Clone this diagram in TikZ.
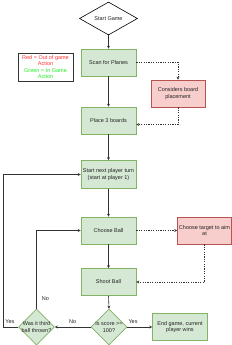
\documentclass[tikz,border=0pt]{standalone}
\usepackage{fontspec}
\setmainfont{Liberation Sans}
\usetikzlibrary{shapes.geometric,arrows.meta,calc}
\definecolor{gfill}{HTML}{D5E8D4}
\definecolor{gline}{HTML}{82B366}
\definecolor{rfill}{HTML}{F8CECC}
\definecolor{rline}{HTML}{B85450}
\definecolor{txt}{HTML}{222222}
\definecolor{lc}{HTML}{333333}
\definecolor{legred}{HTML}{FF3333}
\definecolor{leggreen}{HTML}{22EE22}
\begin{document}
\begin{tikzpicture}[x=1pt,y=-1pt,
  every node/.style={font=\fontsize{5.5}{6.4}\selectfont, text=txt},
  gbox/.style={draw=gline, fill=gfill, line width=0.6pt, minimum width=55pt, minimum height=27pt, inner sep=0pt, align=center},
  rbox/.style={draw=rline, fill=rfill, line width=0.6pt, minimum width=54pt, minimum height=27pt, inner sep=0pt, align=center},
  gdiam/.style={shape=diamond, draw=gline, fill=gfill, line width=0.6pt, minimum width=36pt, minimum height=36pt, inner sep=0pt},
  sdiam/.style={shape=diamond, draw=black, fill=white, line width=0.6pt, minimum width=58pt, minimum height=33pt, inner sep=0pt},
  dtext/.style={align=center, inner sep=0pt},
  legbox/.style={draw=lc, fill=white, line width=0.6pt, minimum width=55pt, minimum height=28pt, inner sep=0pt, align=center},
  arr/.style={draw=lc, line width=0.6pt, -{Stealth[length=3pt,width=3pt]}},
  darr/.style={arr, dash pattern=on 1.2pt off 1.2pt},
  lbl/.style={inner sep=0pt}
]
\useasboundingbox (0,0) rectangle (232,345);

\node[sdiam] (start) at (108.5,18.5) {};
\node[dtext] at (start) {Start Game};
\node[gbox] (scan) at (108.5,62.5) {Scan for Planes};
\node[legbox] (legend) at (45.5,67) {\textcolor{legred}{Red = Out of game}\\\textcolor{legred}{Action}\\\textcolor{leggreen}{Green = In Game}\\\textcolor{leggreen}{Action}};
\node[rbox] (cons) at (178,93.5) {Considers board\\placement};
\node[gbox] (place) at (108.5,120.5) {Place 3 boards};
\node[gbox, minimum height=28pt] (next) at (108.5,174.5) {Start next player turn\\(start at player 1)};
\node[gbox] (choose) at (108.5,230.5) {Choose Ball};
\node[rbox] (target) at (204.5,230.5) {Choose target to aim\\at};
\node[gbox] (shoot) at (108.5,282) {Shoot Ball};
\node[gdiam] (score) at (109,327) {};
\node[dtext] at (score) {Is score >=\\100?};
\node[gdiam] (was) at (36.5,327) {};
\node[dtext] at (was) {Was it third\\ball thrown?};
\node[gbox] (endg) at (180,327) {End game, current\\player wins};
\coordinate (yc) at (3.5,327);

\draw[arr] (start.south) -- (scan.north);
\draw[arr] (scan.south) -- (place.north);
\draw[arr] (place.south) -- (next.north);
\draw[arr] (next.south) -- (choose.north);
\draw[arr] (choose.south) -- (shoot.north);
\draw[arr] (shoot.south) -- (score.north);

\draw[darr] (scan.east) -| (cons.north);
\draw[darr] (cons.south) |- ([yshift=-4pt]place.east);
\draw[darr] (choose.east) -- (target.west);
\draw[darr] (target.south) |- (shoot.east);

\draw[arr] (score.east) -- node[lbl, pos=0.23, yshift=5pt] {Yes} (endg.west);
\draw[arr] (score.west) -- node[lbl, pos=0.5, yshift=5pt] {No} (was.east);
\draw[arr] (was.north) |- node[lbl, pos=0.063, xshift=9pt] {No} (choose.west);
\draw[arr] (was.west) -- node[lbl, pos=0.57, yshift=5pt] {Yes} (yc) |- (next.west);
\end{tikzpicture}
\end{document}
